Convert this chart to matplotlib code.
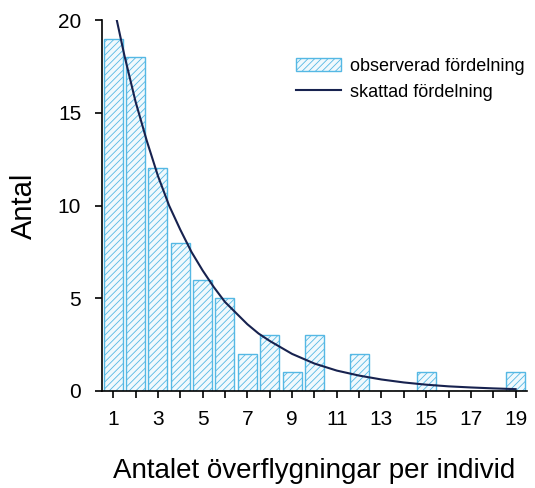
import matplotlib.pyplot as plt

plt.rcParams['font.family'] = ['Liberation Sans', 'DejaVu Sans']

# observed counts per number of flyovers
x_obs = list(range(1, 20))
counts = [19, 18, 12, 8, 6, 5, 2, 3, 1, 3, 0, 2, 0, 0, 1, 0, 0, 0, 1]

# estimated distribution
x_fit = [1.16, 1.5, 2.0, 2.5, 3.0, 3.5, 4.0, 4.5, 5.0, 5.5, 6.0, 6.5, 7.0, 7.5,
         8.0, 9.0, 10.0, 11.0, 12.0, 13.0, 14.0, 15.0, 16.0, 17.0, 18.0, 19.0]
y_fit = [20.0, 18.1, 15.6, 13.5, 11.6, 10.0, 8.7, 7.5, 6.5, 5.6, 4.8, 4.2, 3.6, 3.1,
         2.7, 2.0, 1.48, 1.1, 0.83, 0.62, 0.46, 0.34, 0.25, 0.19, 0.14, 0.10]

xtick_labels = [str(i) if i % 2 == 1 else '' for i in x_obs]

plt.rcParams['hatch.linewidth'] = 0.6

fig = plt.figure(figsize=(5.35, 4.88), dpi=100)
ax = fig.add_axes([0.1907, 0.1988, 0.794, 0.760])

bars = ax.bar(x_obs, counts, width=0.85, facecolor='#f0f9fd', edgecolor='#55b8e4',
              hatch='/////', linewidth=1.0, label='observerad fördelning')
line, = ax.plot(x_fit, y_fit, color='#17224f', lw=1.5, label='skattad fördelning')

ax.set_xlim(0.5, 19.5)
ax.set_ylim(0, 20)
ax.set_xticks(x_obs)
ax.set_xticklabels(xtick_labels)
ax.set_yticks([0, 5, 10, 15, 20])
ax.tick_params(axis='both', direction='out', length=5, width=1.2, labelsize=15)
ax.tick_params(axis='x', pad=9)
ax.tick_params(axis='y', pad=10)
for s in ['top', 'right']:
    ax.spines[s].set_visible(False)
ax.spines['left'].set_linewidth(1.2)
ax.spines['bottom'].set_linewidth(1.2)

ax.set_xlabel('Antalet överflygningar per individ', fontsize=20, va='baseline')
ax.xaxis.set_label_coords(0.5, -0.235)
ax.set_ylabel('Antal', fontsize=21)
ax.yaxis.set_label_coords(-0.15, 0.5)

fig.legend([bars, line], ['observerad fördelning', 'skattad fördelning'],
           loc='upper left', bbox_to_anchor=(0.553, 0.882), frameon=False,
           fontsize=13, handlelength=2.5, handletextpad=0.5,
           labelspacing=0.5, borderpad=0, borderaxespad=0)

plt.savefig('out.png', dpi=100)
